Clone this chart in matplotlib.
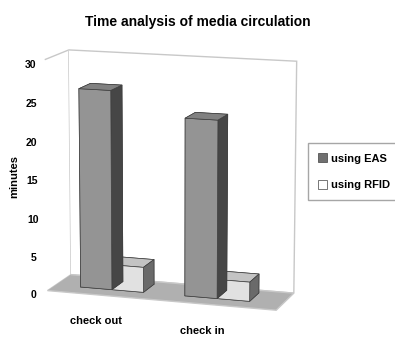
import matplotlib
matplotlib.use("Agg")
import matplotlib.pyplot as plt
from matplotlib.patches import Patch
import numpy as np

plt.rcParams['font.family'] = ['Liberation Sans', 'DejaVu Sans']
plt.rcParams['font.weight'] = 'bold'

categories = ["check out", "check in"]
series = ["using EAS", "using RFID"]
eas_minutes = [26, 23]
rfid_minutes = [3.3, 2.5]
zticks = [0, 5, 10, 15, 20, 25, 30]

eas_color = "#a8a8a8"
rfid_color = "#ffffff"
floor_color = "#b0b0b0"

fig = plt.figure(figsize=(3.95, 3.37), dpi=100)
ax = fig.add_axes([-0.03, -0.035, 0.9, 0.99], projection='3d')
ax.set_proj_type('persp', focal_length=1.2)
ax.view_init(elev=12, azim=-72)

bar_w = 1.0
bar_d = 1.0
cluster_gap = 3.3
x0 = np.arange(len(categories)) * cluster_gap
for i in range(len(categories)):
    ax.bar3d(x0[i], 0, 0, bar_w, bar_d, eas_minutes[i], color=eas_color,
             edgecolor="#404040", linewidth=0.5, shade=True)
    ax.bar3d(x0[i] + bar_w, 0, 0, bar_w, bar_d, rfid_minutes[i], color=rfid_color,
             edgecolor="#404040", linewidth=0.5, shade=True)

xlim = (-0.8, x0[-1] + 2 * bar_w + 1.0)
ylim = (-0.7, 1.3)
ax.set_xlim(*xlim)
ax.set_ylim(*ylim)
ax.set_zlim(0, 30)
ax.set_box_aspect((xlim[1] - xlim[0], ylim[1] - ylim[0], 7.0))

ax.set_xticks(x0 + bar_w * 0.8)
ax.set_xticklabels(categories, fontsize=8)
ax.set_yticks([])
ax.set_zticks(zticks)
ax.set_zticklabels([str(t) for t in zticks], fontsize=7.5)
ax.zaxis.set_ticks_position('lower')

ax.grid(False)
ax.xaxis.set_pane_color((1, 1, 1, 1))
ax.yaxis.set_pane_color((1, 1, 1, 1))
ax.zaxis.set_pane_color(matplotlib.colors.to_rgba(floor_color))
for a in (ax.xaxis, ax.yaxis, ax.zaxis):
    a.pane.set_edgecolor("#c8c8c8")
    a.line.set_color((0, 0, 0, 0))
    # no tick marks, only labels
    a._axinfo['tick']['inward_factor'] = 0
    a._axinfo['tick']['outward_factor'] = 0
ax.tick_params(axis='z', length=0, pad=-1)
ax.tick_params(axis='x', length=0, pad=3)

fig.text(0.035, 0.475, "minutes", rotation=90, fontsize=8,
         fontweight='bold', ha='center', va='center')
fig.suptitle("Time analysis of media circulation", fontsize=10,
             fontweight='bold', x=0.5, y=0.955)

handles = [Patch(facecolor="#707070", edgecolor="#404040", linewidth=0.5),
           Patch(facecolor=rfid_color, edgecolor="#404040", linewidth=0.5)]
fig.legend(handles, series, loc='center left', bbox_to_anchor=(0.765, 0.49),
           fontsize=8, frameon=True, fancybox=False, edgecolor="#909090",
           handlelength=0.8, handleheight=0.8, handletextpad=0.4,
           labelspacing=1.5, borderpad=0.9)

fig.savefig("out.png", dpi=100)
